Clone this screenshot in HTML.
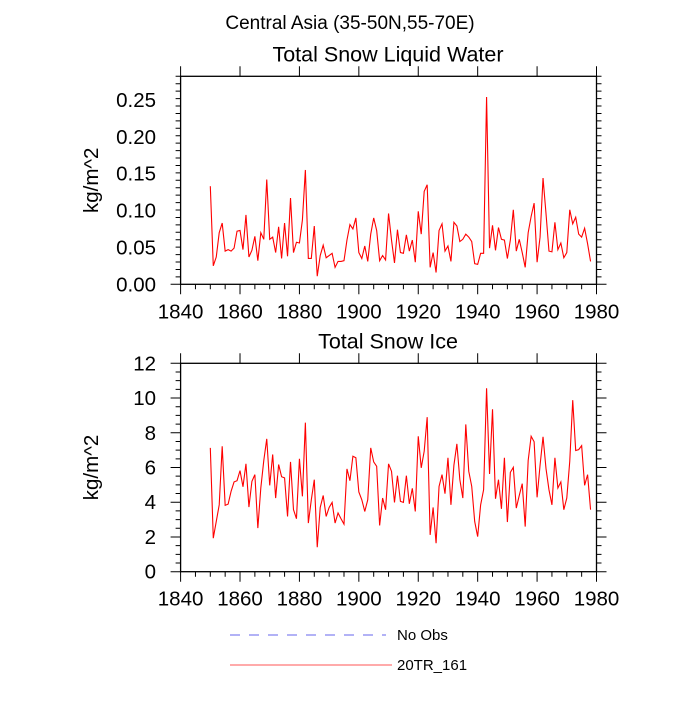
<!DOCTYPE html>
<html><head><meta charset="utf-8"><style>
body{margin:0;background:#fff}
svg text{font-family:"Liberation Sans",Arial,sans-serif;fill:#000}
</style></head><body>
<svg id="chart" width="700" height="700" xmlns="http://www.w3.org/2000/svg">
<text x="350" y="29" font-size="19" text-anchor="middle">Central Asia (35-50N,55-70E)</text>
<g id="p1"></g>
<g id="p2"></g>
<g>
<line x1="230" y1="635" x2="386" y2="635" stroke="#6666ee" stroke-width="1" stroke-dasharray="10,9"/>
<text x="397" y="640" font-size="15">No Obs</text>
<line x1="230" y1="665" x2="392" y2="665" stroke="#ff5555" stroke-width="1"/>
<text x="397" y="670" font-size="15">20TR_161</text>
</g>
</svg>
<script>
const years = Array.from({length:129},(_, i)=>1850+i);
const liquid = [0.133,0.025,0.037,0.070,0.083,0.045,0.047,0.045,0.049,0.072,0.073,0.047,0.094,0.037,0.046,0.065,0.032,0.070,0.061,0.142,0.061,0.064,0.043,0.078,0.035,0.083,0.038,0.117,0.043,0.057,0.056,0.087,0.155,0.035,0.035,0.079,0.011,0.039,0.053,0.036,0.039,0.042,0.023,0.031,0.031,0.032,0.060,0.081,0.075,0.090,0.043,0.035,0.052,0.031,0.068,0.090,0.073,0.032,0.039,0.033,0.096,0.060,0.029,0.074,0.043,0.042,0.067,0.045,0.060,0.030,0.099,0.068,0.126,0.135,0.023,0.043,0.016,0.073,0.082,0.045,0.052,0.031,0.084,0.079,0.058,0.061,0.068,0.064,0.058,0.028,0.027,0.042,0.042,0.254,0.049,0.080,0.046,0.077,0.061,0.060,0.035,0.060,0.101,0.045,0.061,0.043,0.023,0.070,0.092,0.110,0.030,0.064,0.144,0.096,0.045,0.044,0.084,0.047,0.056,0.036,0.043,0.101,0.082,0.091,0.068,0.064,0.076,0.055,0.031];
const ice = [7.13,1.93,2.89,3.85,7.22,3.82,3.89,4.63,5.17,5.24,5.82,4.89,6.21,3.72,5.20,5.59,2.51,4.82,6.40,7.65,4.97,6.75,4.24,6.17,5.47,5.40,3.18,6.32,3.57,3.05,6.50,4.34,8.58,2.80,4.14,5.30,1.41,3.70,4.39,3.18,3.70,3.99,2.80,3.38,3.05,2.74,5.92,5.24,6.65,6.56,4.59,4.14,3.47,4.14,7.13,6.32,6.07,2.66,4.24,3.57,6.21,5.78,3.99,5.53,4.05,3.99,5.53,3.91,4.80,3.47,7.80,5.98,6.94,8.90,2.12,3.70,1.64,4.91,5.59,4.49,6.56,3.85,6.13,7.36,5.30,4.24,8.48,5.78,4.91,2.89,2.02,3.85,4.72,10.56,5.63,9.35,4.20,5.30,3.62,6.56,2.86,5.72,6.01,3.66,4.39,5.07,2.60,6.40,7.80,7.48,4.28,6.13,7.77,5.94,4.72,3.85,6.56,4.82,5.17,3.57,4.24,6.36,9.88,6.98,7.03,7.26,4.97,5.59,3.57];
const xTicks = [1840,1860,1880,1900,1920,1940,1960,1980];
const yTicks1 = ["0.00","0.05","0.10","0.15","0.20","0.25"];
const yTicks2 = ["0","2","4","6","8","10","12"];
const NS="http://www.w3.org/2000/svg";
const X0=180.6,X1=596.5;
function xs(v){return X0+(v-1840)*(X1-X0)/140;}
function mk(tag,attrs,parent){const e=document.createElementNS(NS,tag);for(const k in attrs)e.setAttribute(k,attrs[k]);parent.appendChild(e);return e;}
function panel(g,top,bot,ymax,yminorStep,yTicks,vals,title,prefix){
  const ys=v=>bot-(v/ymax)*(bot-top);
  const t=mk('text',{x:388,y:top-15,'font-size':21.5,'text-anchor':'middle'},g);t.textContent=title;
  
  
  const yt=mk('text',{x:0,y:0,'font-size':20.5,'text-anchor':'middle',transform:`translate(98,${(top+bot)/2}) rotate(-90)`},g);yt.textContent='kg/m^2';
  
  
  const fr=mk('rect',{x:X0,y:top,width:X1-X0,height:bot-top,fill:'none',stroke:'#000','stroke-width':1.3},g);
  
  
  let d='';
  for(let yr=1840;yr<=1980;yr+=5){const x=xs(yr);const L=(yr%20===0)?10:5;
    d+=`M${x},${bot}v${L}`; if(yr%20===0) d+=`M${x},${top}v${-L}`;}
  const n=Math.round(ymax/yminorStep);
  for(let i=0;i<=n;i++){const y=bot-i*(bot-top)/n;const maj=(i%(n/(yTicks.length-1))===0);const L=maj?10:5;
    d+=`M${X0},${y}h${-L}M${X1},${y}h${L}`;}
  const tk=mk('path',{d:d,stroke:'#000','stroke-width':1,fill:'none'},g);
  
  
  xTicks.forEach(v=>{const e=mk('text',{x:xs(v),y:bot+34,'font-size':20.5,'text-anchor':'middle'},g);e.textContent=v;
    
    });
  yTicks.forEach(s=>{const e=mk('text',{x:156,y:ys(parseFloat(s))+7,'font-size':20.5,'text-anchor':'end'},g);e.textContent=s;
    
    });
  const pts=vals.map((v,i)=>xs(years[i]).toFixed(2)+','+ys(v).toFixed(2)).join(' ');
  const pl=mk('polyline',{points:pts,fill:'none',stroke:'#ff0000','stroke-width':1.1},g);
  
  
}
panel(document.getElementById('p1'),76.3,284.3,0.282,0.01,yTicks1,liquid,'Total Snow Liquid Water','liquid');
panel(document.getElementById('p2'),363.3,571.7,12,0.5,yTicks2,ice,'Total Snow Ice','ice');
</script>
</body></html>
